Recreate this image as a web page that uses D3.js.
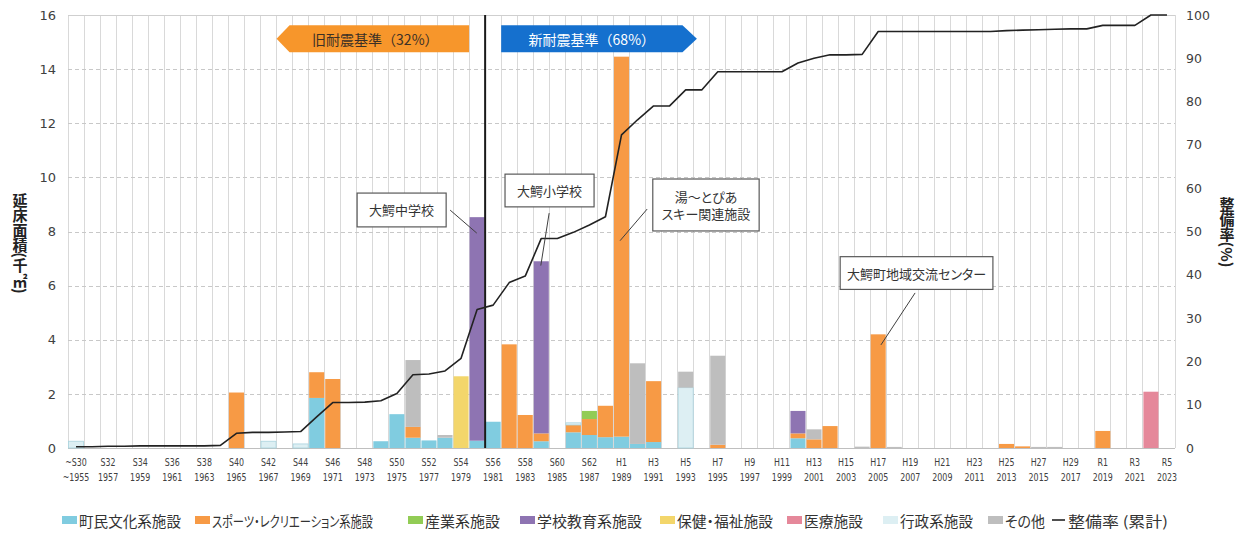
<!DOCTYPE html>
<html>
<head>
<meta charset="utf-8">
<script src="https://cdn.jsdelivr.net/npm/d3@7"></script>
<style>
  body { margin: 0; background: #fff; }
  .jp { font-family: "Noto Sans CJK JP", "Noto Sans", sans-serif; }
  .palt { font-feature-settings: "palt"; }
  .num { font-family: "DejaVu Sans", Verdana, sans-serif; }
</style>
</head>
<body>
<svg id="chart" width="1243" height="534"></svg>
<script>
// ---- categories: construction year (西暦) ----
const years = [
  1955,1956,1957,1958,1959,1960,1961,1962,1963,1964,
  1965,1966,1967,1968,1969,1970,1971,1972,1973,1974,
  1975,1976,1977,1978,1979,1980,1981,1982,1983,1984,
  1985,1986,1987,1988,1989,1990,1991,1992,1993,1994,
  1995,1996,1997,1998,1999,2000,2001,2002,2003,2004,
  2005,2006,2007,2008,2009,2010,2011,2012,2013,2014,
  2015,2016,2017,2018,2019,2020,2021,2022,2023
];

// ---- x tick labels (every other year) ----
const labelYears = [1955,1957,1959,1961,1963,1965,1967,1969,1971,1973,1975,1977,1979,1981,1983,1985,1987,
  1989,1991,1993,1995,1997,1999,2001,2003,2005,2007,2009,2011,2013,2015,2017,2019,2021,2023];
const eraLabels = ["~S30","S32","S34","S36","S38","S40","S42","S44","S46","S48","S50","S52","S54","S56","S58","S60","S62",
  "H1","H3","H5","H7","H9","H11","H13","H15","H17","H19","H21","H23","H25","H27","H29","R1","R3","R5"];
const yearLabels = ["~1955","1957","1959","1961","1963","1965","1967","1969","1971","1973","1975","1977","1979","1981","1983","1985","1987",
  "1989","1991","1993","1995","1997","1999","2001","2003","2005","2007","2009","2011","2013","2015","2017","2019","2021","2023"];

// ---- floor area by facility type (千㎡) ----
const civic = [
  0,0,0,0,0,0,0,0,0,0,
  0,0,0,0,0,1.85,0,0,0,0.25,
  1.25,0.38,0.28,0.38,0,0.27,0.97,0,0,0.25,
  0,0.58,0.48,0.40,0.42,0.15,0.22,0,0,0,
  0,0,0,0,0,0.36,0,0,0,0,
  0,0,0,0,0,0,0,0,0,0,
  0,0,0,0,0,0,0,0,0
];
const sports = [
  0,0,0,0,0,0,0,0,0,0,
  2.05,0,0,0,0,0.95,2.55,0,0,0,
  0,0.40,0,0,0,0,0,3.83,1.22,0.29,
  0,0.27,0.59,1.16,14.04,0,2.25,0,0,0,
  0.12,0,0,0,0,0.18,0.32,0.81,0,0,
  4.20,0,0,0,0,0,0,0,0.15,0.06,
  0,0,0,0,0.63,0,0,0,0
];
const industry = [
  0,0,0,0,0,0,0,0,0,0,
  0,0,0,0,0,0,0,0,0,0,
  0,0,0,0,0,0,0,0,0,0,
  0,0,0.30,0,0,0,0,0,0,0,
  0,0,0,0,0,0,0,0,0,0,
  0,0,0,0,0,0,0,0,0,0,
  0,0,0,0,0,0,0,0,0
];
const school = [
  0,0,0,0,0,0,0,0,0,0,
  0,0,0,0,0,0,0,0,0,0,
  0,0,0,0,0,8.26,0,0,0,6.36,
  0,0,0,0,0,0,0,0,0,0,
  0,0,0,0,0,0.83,0,0,0,0,
  0,0,0,0,0,0,0,0,0,0,
  0,0,0,0,0,0,0,0,0
];
const welfare = [
  0,0,0,0,0,0,0,0,0,0,
  0,0,0,0,0,0,0,0,0,0,
  0,0,0,0,2.65,0,0,0,0,0,
  0,0,0,0,0,0,0,0,0,0,
  0,0,0,0,0,0,0,0,0,0,
  0,0,0,0,0,0,0,0,0,0,
  0,0,0,0,0,0,0,0,0
];
const medical = [
  0,0,0,0,0,0,0,0,0,0,
  0,0,0,0,0,0,0,0,0,0,
  0,0,0,0,0,0,0,0,0,0,
  0,0,0,0,0,0,0,0,0,0,
  0,0,0,0,0,0,0,0,0,0,
  0,0,0,0,0,0,0,0,0,0,
  0,0,0,0,0,0,0,2.08,0
];
const admin = [
  0.25,0,0,0,0,0,0,0,0,0,
  0,0,0.25,0,0.15,0,0,0,0,0,
  0,0,0,0,0,0,0,0,0,0,
  0,0.08,0,0,0,0,0,0,2.23,0,
  0,0,0,0,0,0,0,0,0,0,
  0,0,0,0,0,0,0,0,0,0,
  0,0,0,0,0,0,0,0,0
];
const other = [
  0,0,0,0,0,0,0,0,0,0,
  0,0,0,0,0,0,0,0,0,0,
  0,2.47,0,0.10,0,0,0,0,0,0,
  0,0,0,0,0,2.98,0,0,0.59,0,
  3.29,0,0,0,0,0,0.37,0,0,0.05,
  0,0.04,0,0,0,0,0,0,0,0,
  0.04,0.04,0,0,0,0,0,0,0
];

// ---- cumulative completion rate (%) ----
const cumulativeRate = [
  0.3,0.3,0.4,0.4,0.5,0.5,0.5,0.5,0.5,0.6,
  3.4,3.6,3.6,3.7,3.8,7.2,10.5,10.5,10.6,10.9,
  12.6,16.9,17.1,17.8,20.7,32.0,33.0,38.2,39.7,48.4,
  48.4,49.8,51.5,53.4,72.3,75.8,79.0,79.0,82.7,82.7,
  86.9,86.9,86.9,86.9,86.9,88.9,90.0,90.8,90.8,90.9,
  96.2,96.2,96.2,96.2,96.2,96.2,96.2,96.2,96.4,96.5,
  96.6,96.7,96.8,96.8,97.6,97.6,97.6,100,100
];

const leftTicks = [0,2,4,6,8,10,12,14,16];
const rightTicks = [0,10,20,30,40,50,60,70,80,90,100];

const seriesDefs = [
  { key: "civic",    name: "町民文化系施設", values: civic,    color: "#80CCE0" },
  { key: "sports",   name: "スポーツ・レクリエーション系施設", values: sports, color: "#F79A45" },
  { key: "industry", name: "産業系施設",     values: industry, color: "#92CC55" },
  { key: "school",   name: "学校教育系施設", values: school,   color: "#8E74B2" },
  { key: "welfare",  name: "保健・福祉施設", values: welfare,  color: "#F3D66B" },
  { key: "medical",  name: "医療施設",       values: medical,  color: "#E5889A" },
  { key: "admin",    name: "行政系施設",     values: admin,    color: "#DDEFF3" },
  { key: "other",    name: "その他",         values: other,    color: "#BEBEBE" }
];

// ---- layout ----
const svg = d3.select("#chart");
const plot = { left: 68, right: 1175, top: 15, bottom: 448 };

const x = d3.scaleBand().domain(years).range([plot.left, plot.right]).padding(0);
const bw = x.bandwidth();
const xu = u => plot.left + u * x.step();      // position in band units
const yL = d3.scaleLinear().domain([0, 16]).range([plot.bottom, plot.top]);
const yR = d3.scaleLinear().domain([0, 100]).range([plot.bottom, plot.top]);

svg.append("rect").attr("width", 1243).attr("height", 534).attr("fill", "#fff");

// vertical grid at each category boundary
const grid = svg.append("g");
grid.selectAll("line.v").data(years.concat(["end"])).join("line")
  .attr("x1", d => d === "end" ? plot.right : x(d))
  .attr("x2", d => d === "end" ? plot.right : x(d))
  .attr("y1", plot.top).attr("y2", plot.bottom)
  .attr("stroke", "#D9D9D9").attr("stroke-width", 1).attr("shape-rendering", "crispEdges");

// horizontal dashed grid
grid.selectAll("line.h").data(leftTicks.filter(t => t > 0 && t < 16)).join("line")
  .attr("x1", plot.left).attr("x2", plot.right)
  .attr("y1", d => Math.round(yL(d)) + 0.5).attr("y2", d => Math.round(yL(d)) + 0.5)
  .attr("stroke", "#C8C8C8").attr("stroke-dasharray", "4,3");

// top / bottom frame
svg.append("line").attr("x1", plot.left).attr("x2", plot.right)
  .attr("y1", plot.top + 0.5).attr("y2", plot.top + 0.5).attr("stroke", "#CFCFCF");
svg.append("line").attr("x1", plot.left).attr("x2", plot.right)
  .attr("y1", plot.bottom + 0.5).attr("y2", plot.bottom + 0.5).attr("stroke", "#BFBFBF");

// ---- stacked bars ----
const table = years.map((yr, i) => {
  const row = { year: yr };
  seriesDefs.forEach(s => { row[s.key] = s.values[i]; });
  return row;
});
const stack = d3.stack().keys(seriesDefs.map(s => s.key));
const stacked = stack(table);

const bars = svg.append("g");
stacked.forEach((layer, li) => {
  const def = seriesDefs[li];
  bars.append("g")
    .selectAll("rect")
    .data(layer.filter(d => d[1] - d[0] > 0))
    .join("rect")
    .attr("x", d => x(d.data.year) + 0.5)
    .attr("width", bw - 1)
    .attr("y", d => yL(d[1]))
    .attr("height", d => yL(d[0]) - yL(d[1]))
    .attr("fill", def.color)
    .attr("stroke", def.key === "admin" ? "#A9D4DF" : "none")
    .attr("stroke-width", def.key === "admin" ? 0.8 : 0);
});

// boundary between old / new seismic standard (1981)
svg.append("line")
  .attr("x1", x(1981)).attr("x2", x(1981))
  .attr("y1", plot.top).attr("y2", plot.bottom)
  .attr("stroke", "#1a1a1a").attr("stroke-width", 2);

// ---- cumulative line ----
const line = d3.line()
  .x((d, i) => x(years[i]) + bw / 2)
  .y(d => yR(d));
svg.append("path").datum(cumulativeRate)
  .attr("d", line).attr("fill", "none")
  .attr("stroke", "#222").attr("stroke-width", 1.6).attr("stroke-linejoin", "round");

// ---- axes ----
const axL = svg.append("g").attr("transform", `translate(${plot.left},0)`)
  .call(d3.axisLeft(yL).tickValues(leftTicks).tickSize(0).tickPadding(12));
axL.select(".domain").remove();
axL.selectAll("text").attr("class", "num").style("font-size", "13px").attr("fill", "#404040");

const axR = svg.append("g").attr("transform", `translate(${plot.right},0)`)
  .call(d3.axisRight(yR).tickValues(rightTicks).tickSize(0).tickPadding(11));
axR.select(".domain").remove();
axR.selectAll("text").attr("class", "num").style("font-size", "12.5px").attr("fill", "#404040");

const axB1 = svg.append("g").attr("transform", `translate(0,${plot.bottom})`)
  .call(d3.axisBottom(x).tickValues(labelYears).tickFormat((d, i) => eraLabels[i]).tickSize(0).tickPadding(10));
axB1.select(".domain").remove();
axB1.selectAll("text").attr("class", "num").style("font-size", "11px").attr("fill", "#404040")
  .attr("transform", "scale(0.72,1)");

const axB2 = svg.append("g").attr("transform", `translate(0,${plot.bottom})`)
  .call(d3.axisBottom(x).tickValues(labelYears).tickFormat((d, i) => yearLabels[i]).tickSize(0).tickPadding(25));
axB2.select(".domain").remove();
axB2.selectAll("text").attr("class", "num").style("font-size", "11px").attr("fill", "#404040")
  .attr("transform", "scale(0.72,1)");

// axis titles (vertical)
svg.append("text").attr("class", "jp")
  .attr("x", 20).attr("y", 243)
  .attr("text-anchor", "middle")
  .style("writing-mode", "vertical-rl")
  .style("font-size", "15px").style("font-weight", "bold").attr("fill", "#222")
  .text("延床面積(千㎡)");
svg.append("text").attr("class", "jp")
  .attr("x", 1227).attr("y", 232)
  .attr("text-anchor", "middle")
  .style("writing-mode", "vertical-rl")
  .style("font-size", "15px").style("font-weight", "bold").attr("fill", "#222")
  .text("整備率(%)");

// ---- old / new standard banners ----
const bTop = yL(15.62), bBot = yL(14.62), bMid = (bTop + bBot) / 2;
const oldTip = xu(13), oldRight = xu(25);
svg.append("path")
  .attr("d", `M${oldTip},${bMid} L${oldTip + 13},${bTop} L${oldRight},${bTop} L${oldRight},${bBot} L${oldTip + 13},${bBot} Z`)
  .attr("fill", "#F7962B");
svg.append("text").attr("class", "jp")
  .attr("x", (oldTip + 13 + oldRight) / 2 - 4).attr("y", bMid)
  .attr("text-anchor", "middle").attr("dominant-baseline", "central")
  .style("font-size", "14px").attr("fill", "#3b3026")
  .text("旧耐震基準（32%）");

const newLeft = xu(27), newRight = xu(38.3), newTip = xu(39.2);
svg.append("path")
  .attr("d", `M${newLeft},${bTop} L${newRight},${bTop} L${newTip},${bMid} L${newRight},${bBot} L${newLeft},${bBot} Z`)
  .attr("fill", "#1570CE");
svg.append("text").attr("class", "jp")
  .attr("x", (newLeft + newRight) / 2).attr("y", bMid)
  .attr("text-anchor", "middle").attr("dominant-baseline", "central")
  .style("font-size", "14px").attr("fill", "#fff")
  .text("新耐震基準（68%）");

// ---- callouts: box [u0,u1,vTop,vBottom], leader from/to in [u, value] ----
const callouts = [
  { lines: ["大鰐中学校"], box: [18.02, 23.57, 9.42, 8.17], from: [23.82, 8.79], to: [25.48, 7.94] },
  { lines: ["大鰐小学校"], box: [27.24, 32.79, 10.12, 8.91], from: [29.99, 8.68], to: [29.47, 6.74] },
  { lines: ["湯～とぴあ", "スキー関連施設"], box: [36.45, 43.08, 9.94, 8.02], from: [36.1, 8.83], to: [34.41, 7.66] },
  { lines: ["大鰐町地域交流センター"], box: [48.13, 57.65, 7.07, 5.86], from: [52.8, 5.73], to: [50.67, 3.81] }
];
const cg = svg.append("g");
callouts.forEach(c => {
  const bx0 = xu(c.box[0]), bx1 = xu(c.box[1]), by0 = yL(c.box[2]), by1 = yL(c.box[3]);
  cg.append("line")
    .attr("x1", xu(c.from[0])).attr("y1", yL(c.from[1]))
    .attr("x2", xu(c.to[0])).attr("y2", yL(c.to[1]))
    .attr("stroke", "#404040").attr("stroke-width", 1);
  cg.append("rect")
    .attr("x", bx0).attr("y", by0).attr("width", bx1 - bx0).attr("height", by1 - by0)
    .attr("fill", "#fff").attr("stroke", "#595959").attr("stroke-width", 1.2);
  const cy = (by0 + by1) / 2, lh = 17;
  c.lines.forEach((t, k) => {
    cg.append("text").attr("class", "jp palt")
      .attr("x", (bx0 + bx1) / 2)
      .attr("y", cy + (k - (c.lines.length - 1) / 2) * lh)
      .attr("text-anchor", "middle").attr("dominant-baseline", "central")
      .style("font-size", "13px").attr("fill", "#333")
      .text(t);
  });
});

// ---- legend ----
const legendX = [62, 195, 408, 520, 660, 787, 883, 988];
const legendTextWidth = [102, 161, 75, 105, 96, 59, 73, 40];
const lg = svg.append("g");
seriesDefs.forEach((s, i) => {
  lg.append("rect")
    .attr("x", legendX[i]).attr("y", 516).attr("width", 15).attr("height", 8)
    .attr("fill", s.color);
  lg.append("text").attr("class", "jp palt")
    .attr("x", legendX[i] + 17).attr("y", 520)
    .attr("dominant-baseline", "central")
    .attr("textLength", legendTextWidth[i]).attr("lengthAdjust", "spacingAndGlyphs")
    .style("font-size", "14.5px").attr("fill", "#333")
    .text(s.name);
});
lg.append("line").attr("x1", 1052).attr("x2", 1065).attr("y1", 520).attr("y2", 520)
  .attr("stroke", "#222").attr("stroke-width", 1.6);
lg.append("text").attr("class", "jp")
  .attr("x", 1068).attr("y", 520).attr("dominant-baseline", "central")
  .attr("textLength", 100).attr("lengthAdjust", "spacingAndGlyphs")
  .style("font-size", "14.5px").attr("fill", "#333")
  .text("整備率 (累計)");
</script>
</body>
</html>
